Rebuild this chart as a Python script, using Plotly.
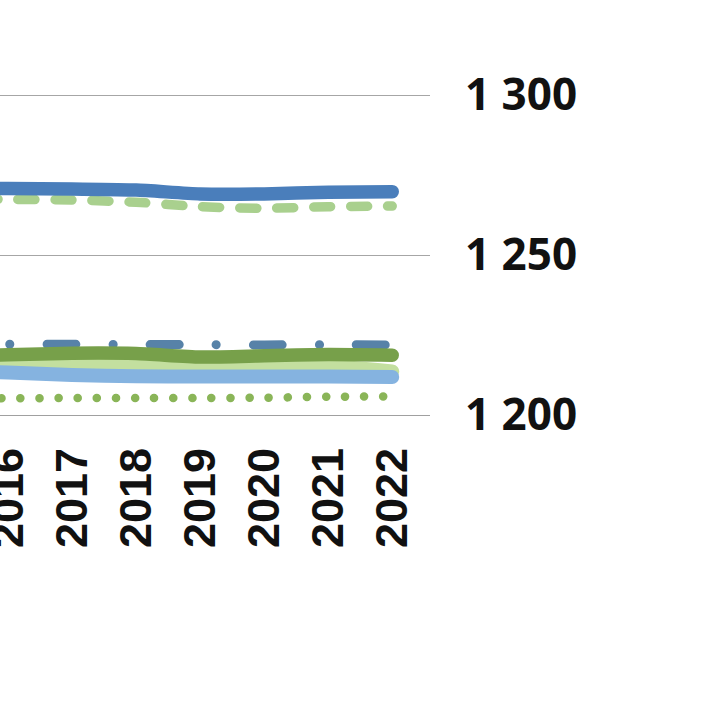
import plotly.graph_objects as go

years = [2015, 2016, 2017, 2018, 2019, 2020, 2021, 2022]
tick_years = [2016, 2017, 2018, 2019, 2020, 2021, 2022]
tick_labels = ["2016", "2017", "2018", "2019", "2020", "2021", "2022"]

y_tickvals = [1200, 1250, 1300]
y_ticktext = ["1 200", "1 250", "1 300"]

blue_solid = [1271.0, 1270.8, 1270.6, 1270.3, 1269.1, 1269.1, 1269.6, 1269.8]
green_dashed = [1267.6, 1267.4, 1267.2, 1266.5, 1265.1, 1264.6, 1265.1, 1265.3]
blue_dashdot = [1222.1, 1222.1, 1222.1, 1222.0, 1222.0, 1221.9, 1222.0, 1221.9]
dark_green = [1218.7, 1218.8, 1219.3, 1219.2, 1218.1, 1218.5, 1218.9, 1218.7]
light_green = [1215.5, 1215.7, 1216.2, 1216.2, 1215.9, 1215.9, 1215.3, 1213.6]
light_blue = [1213.8, 1213.3, 1212.5, 1212.1, 1212.0, 1212.0, 1212.0, 1211.9]
green_dotted = [1205.2, 1205.2, 1205.3, 1205.3, 1205.3, 1205.4, 1205.7, 1205.8]

series = [
    (green_dotted, "#8ab558", 8.5, "0.1px,19px"),
    (light_green, "#c3df9f", 14, "solid"),
    (light_blue, "#85b3e0", 14, "solid"),
    (blue_dashdot, "#5782a8", 9, "29px,37px,0.1px,37px"),
    (dark_green, "#77a04a", 13.5, "solid"),
    (green_dashed, "#a9d08e", 9.5, "17px,20px"),
    (blue_solid, "#4a7ebb", 13.5, "solid"),
]

fig = go.Figure()
for vals, color, width, dash in series:
    fig.add_trace(go.Scatter(
        x=years, y=vals, mode="lines",
        line=dict(color=color, width=width, dash=dash, shape="spline", smoothing=0.6),
        hoverinfo="skip", showlegend=False,
    ))

fig.update_layout(
    width=715, height=716,
    margin=dict(l=0, r=285, t=0, b=301, autoexpand=False),
    paper_bgcolor="white", plot_bgcolor="white",
    showlegend=False,
    xaxis=dict(
        range=[2015.875, 2022.59],
        tickvals=tick_years, ticktext=tick_labels,
        tickangle=-90,
        tickfont=dict(family="Liberation Sans", size=45, color="#111111", weight="bold"),
        showgrid=False, zeroline=False,
        showline=True, linecolor="#a0a0a0", linewidth=1,
        ticks="", ticklabelstandoff=14, ticklabeloverflow="allow",
    ),
    yaxis=dict(
        range=[1200, 1329.7], side="right",
        tickvals=y_tickvals, ticktext=y_ticktext,
        tickfont=dict(family="Open Sans", size=44, color="#111111", weight="bold"),
        showgrid=True, gridcolor="#a6a6a6", gridwidth=1,
        zeroline=False, showline=False, ticks="", ticklabelstandoff=34,
    ),
)

post = """
document.body.style.margin='0';
function fixCaps(){document.querySelectorAll('.scatterlayer path.js-line').forEach(function(p){p.style.strokeLinecap='round';p.style.strokeLinejoin='round';});}
fixCaps(); setTimeout(fixCaps, 50); setTimeout(fixCaps, 300);
"""
fig.write_html("out.html", post_script=post, config={"displayModeBar": False})
